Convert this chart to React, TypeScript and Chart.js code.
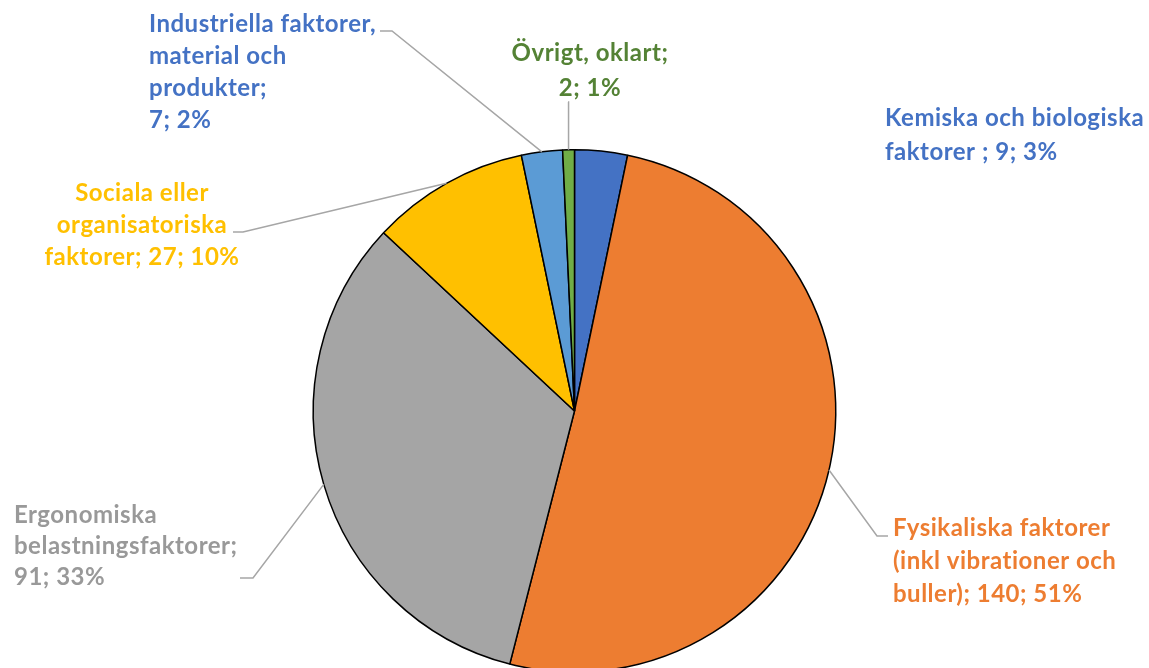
import React, { useEffect, useRef } from "react";
import { Chart, registerables } from "chart.js";

Chart.register(...registerables);

const categories = [
  "Kemiska och biologiska faktorer ",
  "Fysikaliska faktorer (inkl vibrationer och buller)",
  "Ergonomiska belastningsfaktorer",
  "Sociala eller organisatoriska faktorer",
  "Industriella faktorer, material och produkter",
  "Övrigt, oklart",
];
const values = [9, 140, 91, 27, 7, 2];
const percentLabels = ["3%", "51%", "33%", "10%", "2%", "1%"];
const sliceColors = ["#4472C4", "#ED7D31", "#A5A5A5", "#FFC000", "#5B9BD5", "#70AD47"];
const textColors = ["#4472C4", "#ED7D31", "#999999", "#FFC000", "#4472C4", "#548235"];

// Label text lines (as wrapped in the original)
const labelLines: string[][] = [
  ["Kemiska och biologiska", "faktorer ; 9; 3%"],
  ["Fysikaliska faktorer", "(inkl vibrationer och", "buller); 140; 51%"],
  ["Ergonomiska", "belastningsfaktorer;", "91; 33%"],
  ["Sociala eller", "organisatoriska", "faktorer; 27; 10%"],
  ["Industriella faktorer,", "material och", "produkter;", "7; 2%"],
  ["Övrigt, oklart;", "2; 1%"],
];

type Layout = { x: number; y: number; align: CanvasTextAlign; lh: number; leader?: [number, number][] };
const labelLayout: Layout[] = [
  { x: 885, y: 118, align: "left", lh: 34 },
  { x: 893, y: 528, align: "left", lh: 33, leader: [[888, 536], [877, 536]] },
  { x: 14, y: 515, align: "left", lh: 31, leader: [[240, 578], [253, 578]] },
  { x: 142, y: 193, align: "center", lh: 32, leader: [[233, 232], [243, 232]] },
  { x: 149, y: 24, align: "left", lh: 32, leader: [[380, 31], [392, 31]] },
  { x: 590, y: 53, align: "center", lh: 35, leader: [[568, 102]] },
];

const labelPlugin = {
  id: "labelPlugin",
  afterDraw(chart: any) {
    const ctx = chart.ctx as CanvasRenderingContext2D;
    const meta = chart.getDatasetMeta(0);
    ctx.save();
    meta.data.forEach((arc: any, i: number) => {
      const lay = labelLayout[i];
      const { x, y, startAngle, endAngle, outerRadius } = arc.getProps(
        ["x", "y", "startAngle", "endAngle", "outerRadius"],
        true
      );
      const mid = (startAngle + endAngle) / 2;
      if (lay.leader) {
        const px = x + Math.cos(mid) * outerRadius;
        const py = y + Math.sin(mid) * outerRadius;
        ctx.strokeStyle = "#A6A6A6";
        ctx.lineWidth = 1.5;
        ctx.beginPath();
        ctx.moveTo(lay.leader[0][0], lay.leader[0][1]);
        for (let k = 1; k < lay.leader.length; k++) ctx.lineTo(lay.leader[k][0], lay.leader[k][1]);
        if (lay.leader.length === 1) ctx.lineTo(px, lay.leader[0][1]);
        ctx.lineTo(px, py);
        ctx.stroke();
      }
      ctx.fillStyle = textColors[i];
      ctx.font = "bold 24px Lato";
      (ctx as any).letterSpacing = "0.5px";
      ctx.textAlign = lay.align;
      ctx.textBaseline = "middle";
      labelLines[i].forEach((line, j) => {
        ctx.fillText(line, lay.x, lay.y + j * lay.lh);
      });
    });
    ctx.restore();
  },
};

export default function App() {
  const ref = useRef<HTMLCanvasElement | null>(null);
  useEffect(() => {
    if (!ref.current) return;
    const chart = new Chart(ref.current, {
      type: "pie",
      data: {
        labels: categories.map((c, i) => `${c}; ${values[i]}; ${percentLabels[i]}`),
        datasets: [
          {
            data: values,
            backgroundColor: sliceColors,
            borderColor: "#000000",
            borderWidth: 1.5,
          },
        ],
      },
      options: {
        responsive: false,
        animation: false,
        layout: { padding: { top: 149, bottom: 27, left: 0, right: 0 } },
        plugins: { legend: { display: false }, tooltip: { enabled: false } },
      },
      plugins: [labelPlugin],
    });
    return () => chart.destroy();
  }, []);
  return (
    <div style={{ position: "fixed", left: 0, top: 0, width: 1149, height: 668, overflow: "hidden", background: "#fff" }}>
      <canvas ref={ref} width={1149} height={700} style={{ width: 1149, height: 700, display: "block" }} />
    </div>
  );
}
